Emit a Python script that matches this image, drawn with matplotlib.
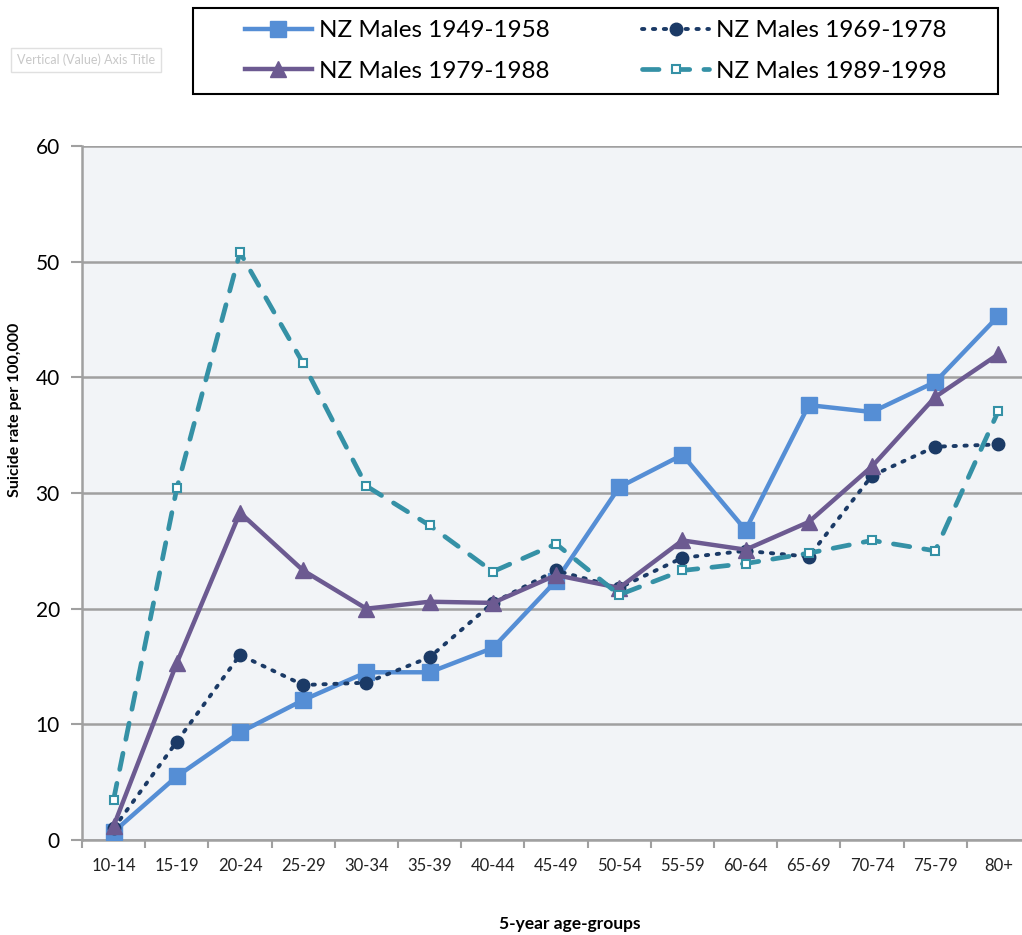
import numpy as np
import matplotlib.pyplot as plt
from matplotlib.ticker import FixedLocator
from matplotlib.patches import Rectangle

plt.rcParams['font.family'] = ['Lato', 'DejaVu Sans']

ages = ['10-14', '15-19', '20-24', '25-29', '30-34', '35-39', '40-44', '45-49',
        '50-54', '55-59', '60-64', '65-69', '70-74', '75-79', '80+']

males_1949 = [0.7, 5.5, 9.3, 12.1, 14.5, 14.5, 16.6, 22.4, 30.5, 33.3, 26.8, 37.6, 37.0, 39.6, 45.3]
males_1969 = [1.0, 8.5, 16.0, 13.4, 13.6, 15.8, 20.5, 23.3, 21.8, 24.4, 25.0, 24.5, 31.5, 34.0, 34.2]
males_1979 = [1.2, 15.3, 28.3, 23.3, 20.0, 20.6, 20.5, 22.9, 21.8, 25.9, 25.1, 27.5, 32.3, 38.3, 42.0]
males_1989 = [3.5, 30.4, 50.8, 41.2, 30.6, 27.2, 23.2, 25.6, 21.2, 23.3, 23.9, 24.8, 25.9, 25.0, 37.1]

fig = plt.figure(figsize=(10.22, 9.35), dpi=100)
ax = fig.add_axes([82/1022, 95/935, 948/1022, 694/935])
ax.set_facecolor('#F2F4F7')

x = np.arange(len(ages))

l1, = ax.plot(x, males_1949, '-', color='#558ED5', lw=3.2, marker='s', ms=11,
              label='NZ Males 1949-1958', zorder=3)
l2, = ax.plot(x, males_1969, color='#1B3A66', lw=2.8, ls=(0, (0.6, 2.2)),
              dash_capstyle='round', marker='o', ms=9,
              label='NZ Males 1969-1978', zorder=4)
l3, = ax.plot(x, males_1979, '-', color='#6C5A91', lw=3.2, marker='^', ms=12,
              label='NZ Males 1979-1988', zorder=5)
l4, = ax.plot(x, males_1989, color='#3591A6', lw=3.4, ls=(0, (3.5, 3.0)),
              dash_capstyle='round', marker='s', ms=6, mfc='white', mec='#3591A6',
              mew=1.5, label='NZ Males 1989-1998', zorder=6)

ax.set_xlim(-0.5, 14.5)
ax.set_ylim(0, 60)
ax.set_yticks(range(0, 61, 10))
ax.yaxis.grid(True, color='#A0A0A0', lw=1.8)
ax.set_axisbelow(True)

ax.set_xticks(x)
ax.set_xticklabels(ages, fontsize=12, color='#222222')
ax.xaxis.set_minor_locator(FixedLocator(np.arange(-0.5, 15, 1)))
ax.tick_params(axis='x', which='major', length=0, pad=13)
ax.tick_params(axis='x', which='minor', length=6, width=1.5, color='#A0A0A0')
ax.tick_params(axis='y', length=8, width=1.5, color='#A0A0A0', labelsize=15, pad=8)

for side in ['top', 'right']:
    ax.spines[side].set_visible(False)
for side in ['left', 'bottom']:
    ax.spines[side].set_color('#A0A0A0')
    ax.spines[side].set_linewidth(1.8)

ax.set_ylabel('Suicide rate per 100,000', fontsize=11.5, fontweight='bold')
ax.yaxis.set_label_coords(-60/948, 0.62)
fig.text(570/1022, 1 - 924/935, '5-year age-groups', fontsize=12.5, fontweight='bold',
         ha='center', va='center')

fig.text(86/1022, 1 - 60/935, 'Vertical (Value) Axis Title', fontsize=9, color='#C8C8C8',
         ha='center', va='center',
         bbox=dict(boxstyle='square,pad=0.45', fc='white', ec='#E0E0E0', lw=1))

# legend box drawn separately so the entries can sit where they do in the reference
fig.patches.append(Rectangle((193/1022, 1 - 94/935), 805/1022, 86/935,
                             transform=fig.transFigure, fill=False,
                             ec='black', lw=1.5))
leg = fig.legend(handles=[l1, l3, l2, l4], ncol=2, loc='center',
                 bbox_to_anchor=(596/1022, 1 - 51/935),
                 fontsize=17.5, frameon=False, handlelength=2.75,
                 handletextpad=0.3, labelspacing=0.8, columnspacing=3.8)

fig.savefig('out.png', dpi=100, facecolor='white')
